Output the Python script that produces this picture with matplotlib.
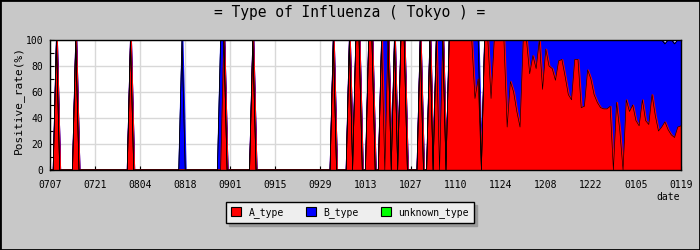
import numpy as np
import matplotlib.pyplot as plt
from matplotlib.patches import Patch, Rectangle

plt.rcParams['font.family'] = ['DejaVu Sans Mono']

tick_labels = ['0707', '0721', '0804', '0818', '0901', '0915', '0929',
               '1013', '1027', '1110', '1124', '1208', '1222', '0105', '0119']

# daily positive rate (%) from 0707 to 0119, two weeks per row
a_type = [
    0, 0, 100, 0, 0, 0, 0, 0, 100, 0, 0, 0, 0, 0,
    0, 0, 0, 0, 0, 0, 0, 0, 0, 0, 0, 100, 0, 0,
    0, 0, 0, 0, 0, 0, 0, 0, 0, 0, 0, 0, 0, 0,
    0, 0, 0, 0, 0, 0, 0, 0, 0, 0, 0, 0, 100, 0,
    0, 0, 0, 0, 0, 0, 0, 100, 0, 0, 0, 0, 0, 0,
    0, 0, 0, 0, 0, 0, 0, 0, 0, 0, 0, 0, 0, 0,
    0, 0, 0, 0, 100, 0, 0, 0, 0, 100, 0, 100, 100, 0,
    0, 100, 100, 0, 0, 100, 0, 100, 0, 100, 0, 100, 100, 0,
    0, 0, 0, 100, 0, 0, 100, 0, 100, 0, 100, 0, 100, 100,
    100, 100, 100, 100, 100, 100, 55, 70, 0, 100, 100, 55, 100, 100,
    100, 100, 33, 68, 60, 45, 33, 100, 100, 74, 88, 78, 100, 62,
    93, 80, 78, 69, 84, 85, 72, 58, 54, 85, 85, 48, 49, 77,
    70, 58, 52, 48, 47, 47, 49, 0, 52, 30, 0, 54, 45, 50,
    38, 34, 54, 38, 35, 58, 42, 30, 33, 37, 31, 27, 25, 33,
    34]

b_type = [
    0, 0, 0, 0, 0, 0, 0, 0, 0, 0, 0, 0, 0, 0,
    0, 0, 0, 0, 0, 0, 0, 0, 0, 0, 0, 0, 0, 0,
    0, 0, 0, 0, 0, 0, 0, 0, 0, 0, 0, 0, 0, 100,
    0, 0, 0, 0, 0, 0, 0, 0, 0, 0, 0, 100, 0, 0,
    0, 0, 0, 0, 0, 0, 0, 0, 0, 0, 0, 0, 0, 0,
    0, 0, 0, 0, 0, 0, 0, 0, 0, 0, 0, 0, 0, 0,
    0, 0, 0, 0, 0, 0, 0, 0, 0, 0, 0, 0, 0, 0,
    0, 0, 0, 0, 0, 0, 100, 0, 0, 0, 0, 0, 0, 0,
    0, 0, 0, 0, 0, 0, 0, 0, 0, 100, 0, 0, 0, 0,
    0, 0, 0, 0, 0, 0, 45, 30, 0, 0, 0, 45, 0, 0,
    0, 0, 67, 32, 40, 55, 67, 0, 0, 26, 12, 22, 0, 38,
    7, 20, 22, 31, 16, 15, 28, 42, 46, 15, 15, 52, 51, 23,
    30, 42, 48, 52, 53, 53, 51, 100, 48, 70, 100, 46, 55, 50,
    62, 66, 46, 62, 65, 42, 58, 70, 67, 60, 69, 73, 72, 67,
    66]

unknown_type = [0] * len(a_type)

days = np.arange(len(a_type))
colors = ['#ff0000', '#0000ff', '#00ff00']

fig = plt.figure(figsize=(7, 2.5), dpi=100)
fig.patch.set_facecolor('#c8c8c8')
ax = fig.add_axes([50 / 700, 80 / 250, 631 / 700, 130 / 250])
ax.set_facecolor('white')

polys = ax.stackplot(days, a_type, b_type, unknown_type, colors=colors,
                     linewidth=1.4)
for p, c, z in zip(polys, colors, [1.6, 1.3, 1.1]):
    p.set_edgecolor(c)
    p.set_zorder(z)
polys[2].set_linewidth(0)

# black outline on top of each layer
tops = np.cumsum([a_type, b_type, unknown_type], axis=0)
for t in tops:
    ax.plot(days, t, color='black', linewidth=0.45, zorder=2)

ax.set_xlim(0, 196)
ax.set_ylim(0, 100)
ax.set_xticks(np.arange(0, 197, 14))
ax.set_xticklabels(tick_labels)
ax.set_yticks(np.arange(0, 101, 20))
ax.set_yticks(np.arange(0, 101, 10), minor=True)
ax.tick_params(which='both', direction='in', length=3, width=0.8, labelsize=7)
ax.tick_params(axis='x', pad=7)
ax.tick_params(axis='y', pad=5)
ax.grid(True, color='#d8d8d8', linewidth=1)
ax.set_axisbelow(True)
for s in ax.spines.values():
    s.set_color('black')
    s.set_linewidth(1)
    s.set_zorder(5)

fig.text(0.5, 1 - 13 / 250, '= Type of Influenza ( Tokyo ) =',
         ha='center', va='center', fontsize=10.5)
fig.text(18 / 700, 1 - 100 / 250, 'Positive_rate(%)', rotation=90,
         ha='center', va='center', fontsize=8)
fig.text(668 / 700, 1 - 197 / 250, 'date', ha='center', va='center', fontsize=7)

handles = [Patch(facecolor=c, edgecolor='black', linewidth=0.8) for c in colors]
leg = fig.legend(handles, ['A_type', 'B_type', 'unknown_type'],
                 loc='center', bbox_to_anchor=(350 / 700, 1 - 212.5 / 250),
                 ncol=3, fontsize=7, frameon=True, fancybox=False,
                 edgecolor='black', facecolor='#eeeeee', framealpha=1,
                 shadow={'color': '#999999', 'alpha': 1}, handlelength=1.0,
                 handleheight=1.0, handletextpad=0.8, columnspacing=2.3,
                 borderpad=0.5)
leg.get_frame().set_linewidth(1)

fig.patches.append(Rectangle((0, 0), 1, 1, transform=fig.transFigure,
                             fill=False, edgecolor='black', linewidth=2))

fig.savefig('out.png', dpi=100, facecolor=fig.get_facecolor())
